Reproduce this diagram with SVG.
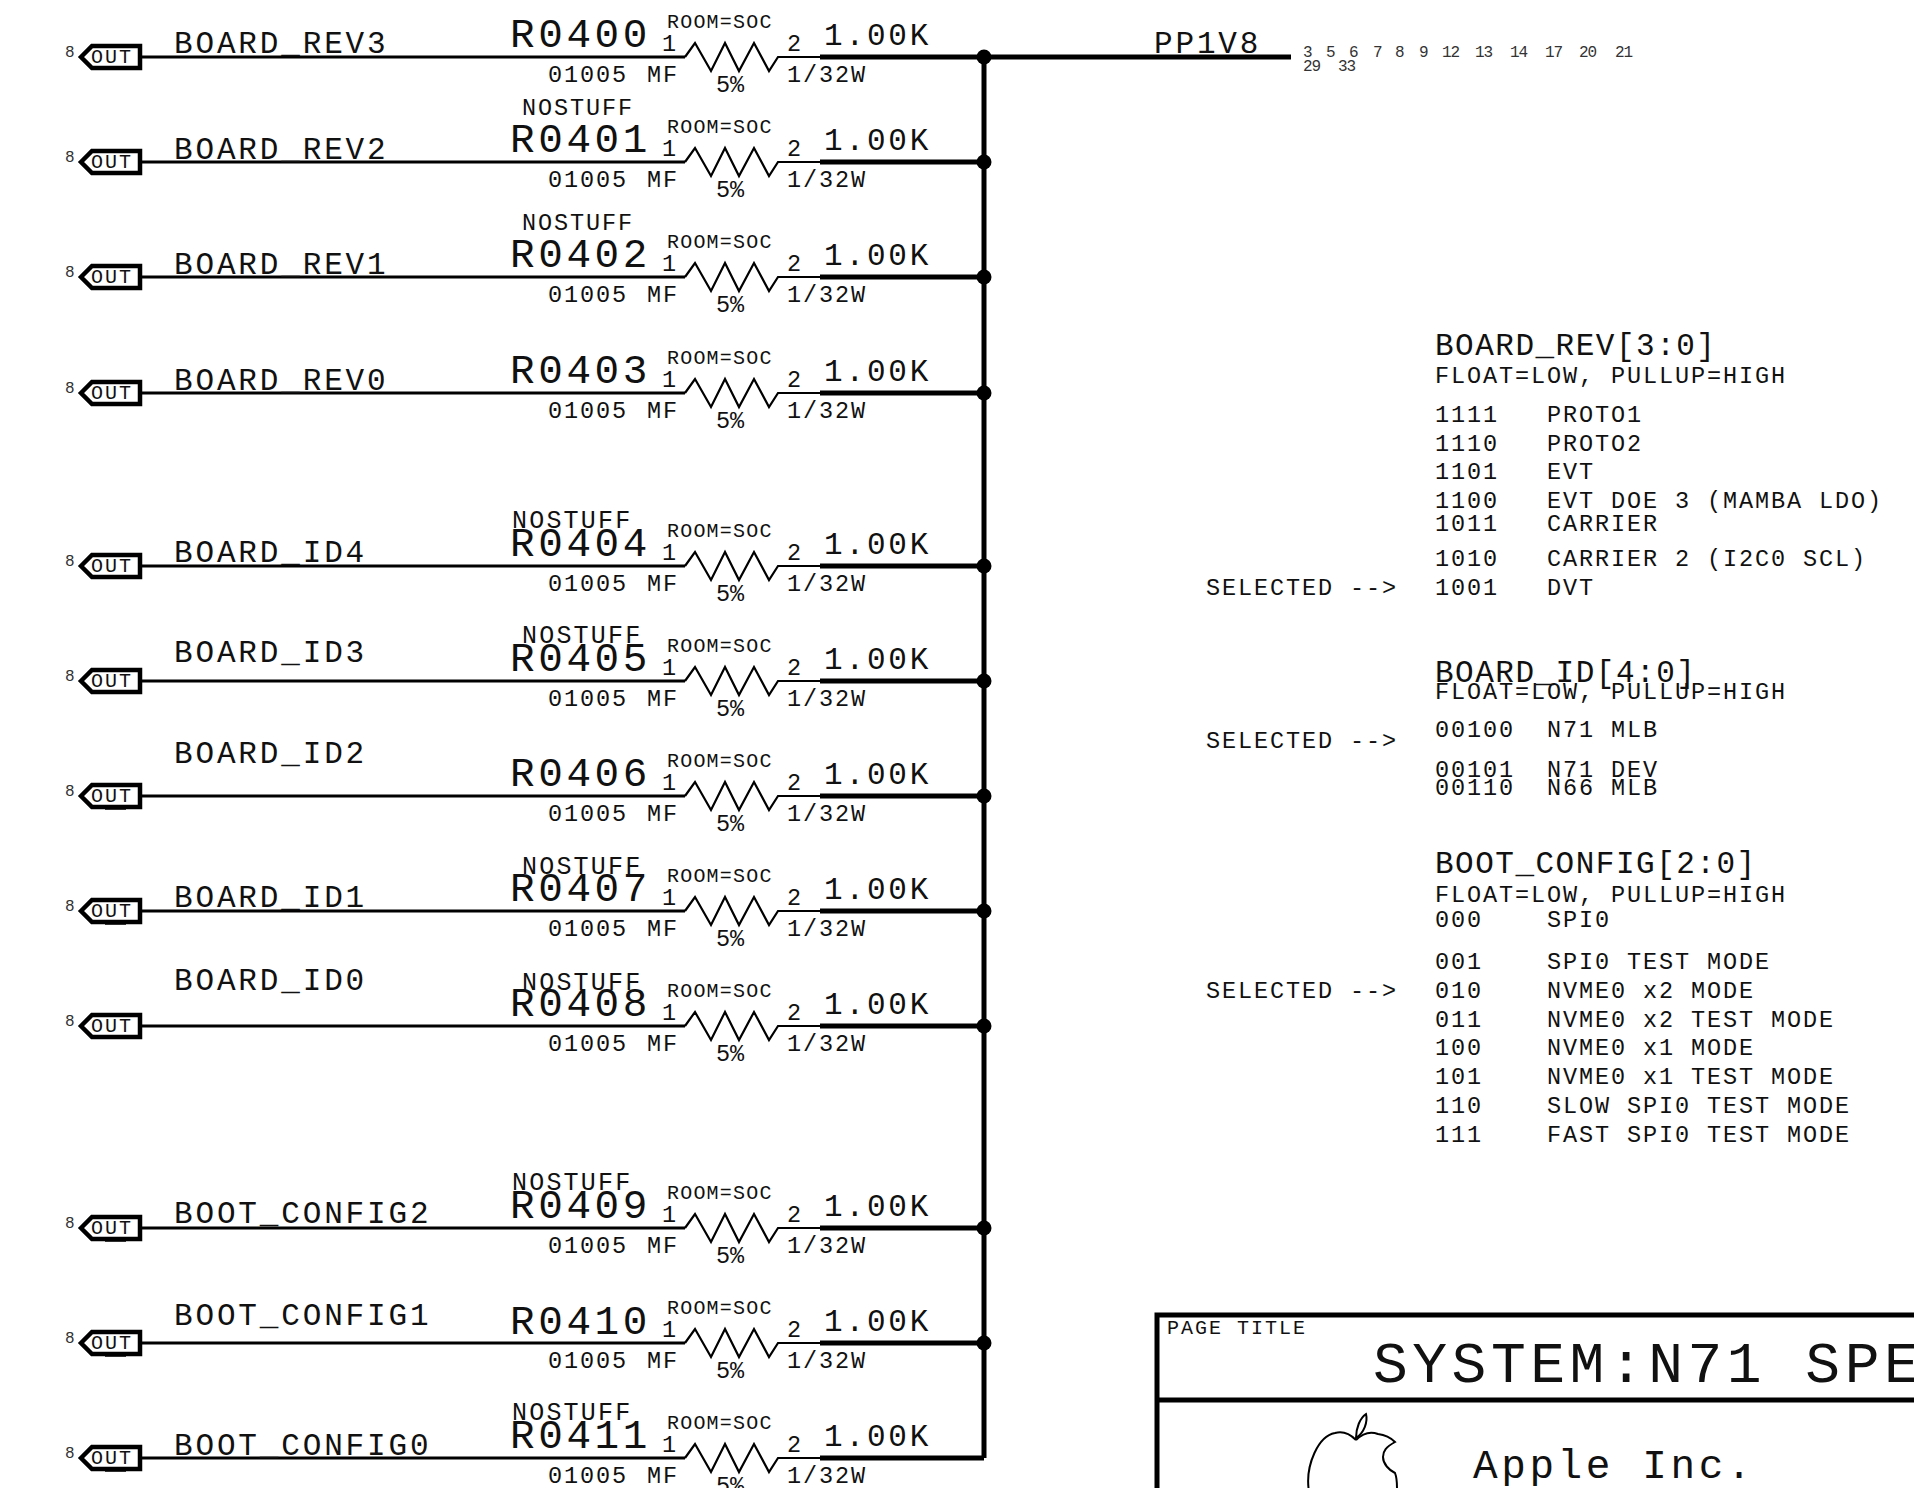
<svg xmlns="http://www.w3.org/2000/svg" width="1914" height="1488" viewBox="0 0 1914 1488">
<style>
text{font-family:"Liberation Mono",monospace;fill:#111}
.r{font-size:41px;letter-spacing:3.6px}
.n{font-size:31px;letter-spacing:2.85px}
.h{font-size:31px;letter-spacing:1.5px}
.s{font-size:23.5px;letter-spacing:1.9px}
.w{font-size:25px;letter-spacing:2.2px}
.q{font-size:25px;letter-spacing:2.2px}
.t{font-size:20px;letter-spacing:1.2px}
.u{font-size:20px;letter-spacing:2px}
.p{font-size:16px;letter-spacing:-1px;fill:#333}
.big{font-size:58px;letter-spacing:4.5px}
.thin{fill:none;stroke:#000;stroke-width:3}
.thick{fill:none;stroke:#000;stroke-width:5}
.tag{fill:#fff;stroke:#000;stroke-width:4.500}
.z{fill:none;stroke:#000;stroke-width:2.200}
.logo{fill:none;stroke:#000;stroke-width:2}
.blip{fill:none;stroke:#000;stroke-width:1.500}
</style>
<defs>
<g id="res">
<path class="thin" d="M141 0H685"/>
<path class="z" d="M685 0L695 -14L711 14L725 -14L739 14L754 -14L769 14L778 0H820"/>
<path class="thick" d="M820 0H984"/>
<text class="t" x="667" y="-29">ROOM=SOC</text>
<text class="s" x="662" y="-6">1</text>
<text class="s" x="787" y="-6">2</text>
<text class="n" x="824" y="-12">1.00K</text>
<text class="s" x="548" y="25">01005 <tspan x="647">MF</tspan></text>
<text class="s" x="787" y="25">1/32W</text>
<text class="s" x="716" y="35" style="letter-spacing:0">5%</text>
</g>
<g id="out">
<path class="tag" d="M81 0L92 -11H140V11H92Z"/>
<text class="u" x="91" y="6">OUT</text>
<text class="p" x="65" y="0">8</text>
</g>
</defs>
<g id="connectors">
<path class="thick" d="M984 57V1458M984 57H1291"/>
<g fill="#000">
<circle cx="984" cy="57" r="7.500"/><circle cx="984" cy="162" r="7.500"/><circle cx="984" cy="277" r="7.500"/><circle cx="984" cy="393" r="7.500"/><circle cx="984" cy="566" r="7.500"/><circle cx="984" cy="681" r="7.500"/><circle cx="984" cy="796" r="7.500"/><circle cx="984" cy="911" r="7.500"/><circle cx="984" cy="1026" r="7.500"/><circle cx="984" cy="1228" r="7.500"/><circle cx="984" cy="1343" r="7.500"/>
</g>
</g>
<g id="R0400" transform="translate(0,57)"><use href="#res"/><use href="#out"/><text class="n" x="174" y="-4">BOARD_REV3</text><text class="r" x="510" y="-10">R0400</text></g>
<g id="R0401" transform="translate(0,162)"><use href="#res"/><use href="#out"/><text class="n" x="174" y="-3">BOARD_REV2</text><text class="s" x="522" y="-47">NOSTUFF</text><text class="r" x="510" y="-10">R0401</text></g>
<g id="R0402" transform="translate(0,277)"><use href="#res"/><use href="#out"/><text class="n" x="174" y="-3">BOARD_REV1</text><text class="s" x="522" y="-47">NOSTUFF</text><text class="r" x="510" y="-10">R0402</text></g>
<g id="R0403" transform="translate(0,393)"><use href="#res"/><use href="#out"/><text class="n" x="174" y="-3">BOARD_REV0</text><text class="r" x="510" y="-10">R0403</text></g>
<g id="R0404" transform="translate(0,566)"><use href="#res"/><use href="#out"/><text class="n" x="174" y="-4">BOARD_ID4</text><text class="w" x="512" y="-38">NOSTUFF</text><text class="r" x="510" y="-10">R0404</text></g>
<g id="R0405" transform="translate(0,681)"><use href="#res"/><use href="#out"/><text class="n" x="174" y="-19">BOARD_ID3</text><text class="w" x="522" y="-38">NOSTUFF</text><text class="r" x="510" y="-10">R0405</text></g>
<g id="R0406" transform="translate(0,796)"><use href="#res"/><use href="#out"/><path class="blip" d="M105 13H126"/><text class="n" x="174" y="-33">BOARD_ID2</text><text class="r" x="510" y="-10">R0406</text></g>
<g id="R0407" transform="translate(0,911)"><use href="#res"/><use href="#out"/><path class="blip" d="M105 13H126"/><text class="n" x="174" y="-4">BOARD_ID1</text><text class="w" x="522" y="-37">NOSTUFF</text><text class="r" x="510" y="-10">R0407</text></g>
<g id="R0408" transform="translate(0,1026)"><use href="#res"/><use href="#out"/><text class="n" x="174" y="-36">BOARD_ID0</text><text class="w" x="522" y="-36">NOSTUFF</text><text class="r" x="510" y="-10">R0408</text></g>
<g id="R0409" transform="translate(0,1228)"><use href="#res"/><use href="#out"/><path class="blip" d="M105 13H126"/><text class="n" x="174" y="-5">BOOT_CONFIG2</text><text class="w" x="512" y="-38">NOSTUFF</text><text class="r" x="510" y="-10">R0409</text></g>
<g id="R0410" transform="translate(0,1343)"><use href="#res"/><use href="#out"/><path class="blip" d="M105 13H126"/><text class="n" x="174" y="-18">BOOT_CONFIG1</text><text class="r" x="510" y="-9">R0410</text></g>
<g id="R0411" transform="translate(0,1458)"><use href="#res"/><use href="#out"/><path class="blip" d="M105 13H126"/><text class="n" x="174" y="-3">BOOT_CONFIG0</text><text class="w" x="512" y="-38">NOSTUFF</text><text class="r" x="510" y="-10">R0411</text></g>
<g id="PP1V8"><text class="n" x="1154" y="53">PP1V8</text>
<text class="p"><tspan x="1303" y="57">3</tspan><tspan x="1326" y="57">5</tspan><tspan x="1349" y="57">6</tspan><tspan x="1373" y="57">7</tspan><tspan x="1395" y="57">8</tspan><tspan x="1419" y="57">9</tspan><tspan x="1442" y="57">12</tspan><tspan x="1475" y="57">13</tspan><tspan x="1510" y="57">14</tspan><tspan x="1545" y="57">17</tspan><tspan x="1579" y="57">20</tspan><tspan x="1615" y="57">21</tspan><tspan x="1303" y="71">29</tspan><tspan x="1338" y="71">33</tspan></text></g>
<g id="board-rev-table">
<text class="h" x="1435" y="355">BOARD_REV[3:0]</text>
<text class="s" x="1435" y="383">FLOAT=LOW, PULLUP=HIGH</text>
<text class="s" x="1435" y="422">1111</text><text class="s" x="1547" y="422">PROTO1</text>
<text class="s" x="1435" y="451">1110</text><text class="s" x="1547" y="451">PROTO2</text>
<text class="s" x="1435" y="479">1101</text><text class="s" x="1547" y="479">EVT</text>
<text class="s" x="1435" y="508">1100</text><text class="s" x="1547" y="508">EVT DOE 3 (MAMBA LDO)</text>
<text class="s" x="1435" y="531">1011</text><text class="s" x="1547" y="531">CARRIER</text>
<text class="s" x="1435" y="566">1010</text><text class="s" x="1547" y="566">CARRIER 2 (I2C0 SCL)</text>
<text class="s" x="1206" y="595">SELECTED --&gt;</text>
<text class="s" x="1435" y="595">1001</text><text class="s" x="1547" y="595">DVT</text>
</g>
<g id="board-id-table">
<text class="h" x="1435" y="682">BOARD_ID[4:0]</text>
<text class="s" x="1435" y="699">FLOAT=LOW, PULLUP=HIGH</text>
<text class="s" x="1435" y="737">00100</text><text class="s" x="1547" y="737">N71 MLB</text>
<text class="s" x="1206" y="748">SELECTED --&gt;</text>
<text class="s" x="1435" y="777">00101</text><text class="s" x="1547" y="777">N71 DEV</text>
<text class="s" x="1435" y="795">00110</text><text class="s" x="1547" y="795">N66 MLB</text>
</g>
<g id="boot-config-table">
<text class="h" x="1435" y="873">BOOT_CONFIG[2:0]</text>
<text class="s" x="1435" y="902">FLOAT=LOW, PULLUP=HIGH</text>
<text class="s" x="1435" y="927">000</text><text class="s" x="1547" y="927">SPI0</text>
<text class="s" x="1435" y="969">001</text><text class="s" x="1547" y="969">SPI0 TEST MODE</text>
<text class="s" x="1206" y="998">SELECTED --&gt;</text>
<text class="s" x="1435" y="998">010</text><text class="s" x="1547" y="998">NVME0 x2 MODE</text>
<text class="s" x="1435" y="1027">011</text><text class="s" x="1547" y="1027">NVME0 x2 TEST MODE</text>
<text class="s" x="1435" y="1055">100</text><text class="s" x="1547" y="1055">NVME0 x1 MODE</text>
<text class="s" x="1435" y="1084">101</text><text class="s" x="1547" y="1084">NVME0 x1 TEST MODE</text>
<text class="s" x="1435" y="1113">110</text><text class="s" x="1547" y="1113">SLOW SPI0 TEST MODE</text>
<text class="s" x="1435" y="1142">111</text><text class="s" x="1547" y="1142">FAST SPI0 TEST MODE</text>
</g>
<g id="title-block">
<path class="thick" d="M1914 1315H1157V1488M1157 1400H1914"/>
<text class="u" x="1167" y="1334">PAGE TITLE</text>
<text class="big" x="1373" y="1382">SYSTEM:N71 SPE</text>
<text class="r" x="1473" y="1478">Apple Inc.</text>
<path class="logo" d="M1356 1440C1350 1434 1342 1431 1335 1433C1318 1436 1306 1465 1308.500 1488M1356 1440C1362 1434 1370 1431 1378 1434C1386 1435 1391 1438 1395 1442C1386 1447 1383 1451 1383 1457C1383 1464 1389 1470 1395 1473C1397 1478 1397 1483 1397 1488"/>
<path class="logo" d="M1356 1438C1356 1428 1360 1418 1366 1414C1368 1422 1364 1433 1356 1438Z"/>
</g>
</svg>
